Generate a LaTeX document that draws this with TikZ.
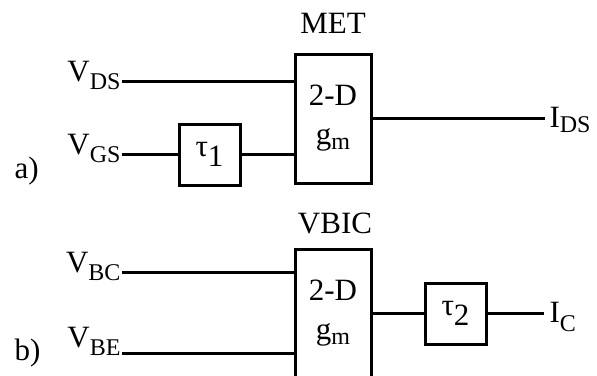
\documentclass[tikz,border=0pt]{standalone}
\usepackage{fontspec}
\setmainfont{Liberation Serif}
\usepackage{tikz}

% signal name with lowered subscript
\newcommand{\sig}[3][6pt]{#2\raisebox{-#1}{\fontsize{24}{24}\selectfont #3}}

\begin{document}
\begin{tikzpicture}[x=1pt, y=-1pt, line width=3pt,
    every node/.style={inner sep=0pt, font=\fontsize{31}{39}\selectfont},
    blk/.style={draw, minimum width=76pt, minimum height=129pt, align=center},
    tbox/.style={draw, minimum width=61pt, minimum height=61pt}]
    \useasboundingbox (0,0) rectangle (597,375);

    % a) MET
    \node[blk] (met) at (333,118.5) {2-D\\\sig[5pt]{g}{m}};
    \node[anchor=base] (metname) at (333,33) {MET};
    \node[anchor=base east] (vds) at (122,81.5) {\sig[7.5pt]{V}{DS}};
    \node[anchor=base east] (vgs) at (122,154.5) {\sig[7.5pt]{V}{GS}};
    \node[tbox] (tau1) at (209.5,154.5) {τ\raisebox{-10pt}{1}};
    \node[anchor=base west] (ids) at (548,127) {\sig[5pt]{I}{DS}};
    \node[anchor=base west] (la) at (13,178) {a)};

    % b) VBIC
    \node[blk] (vbic) at (333,313.5) {2-D\\\sig[5pt]{g}{m}};
    \node[anchor=base] (vbicname) at (335,233) {VBIC};
    \node[anchor=base east] (vbc) at (122,272.5) {\sig[7.5pt]{V}{BC}};
    \node[anchor=base east] (vbe) at (122,347.5) {\sig[7.5pt]{V}{BE}};
    \node[tbox] (tau2) at (455.5,313.5) {τ\raisebox{-10pt}{2}};
    \node[anchor=base west] (ic) at (548,322) {\sig[9pt]{I}{C}};
    \node[anchor=base west] (lb) at (13,360) {b)};

    % Connectors
    \draw (vds.base east) -- (vds.base east -| met.west);
    \draw (vgs.base east) -- (tau1.west);
    \draw (tau1.east) -- (tau1.east -| met.west);
    \draw[shorten >=3pt] (met.east) -- (met.east -| ids.west);
    \draw (vbc.base east) -- (vbc.base east -| vbic.west);
    \draw ([yshift=-6pt]vbe.base east) -- ([yshift=-6pt]vbe.base east -| vbic.west);
    \draw (vbic.east) -- (tau2.west);
    \draw[shorten >=4pt] (tau2.east) -- (tau2.east -| ic.west);
\end{tikzpicture}
\end{document}
